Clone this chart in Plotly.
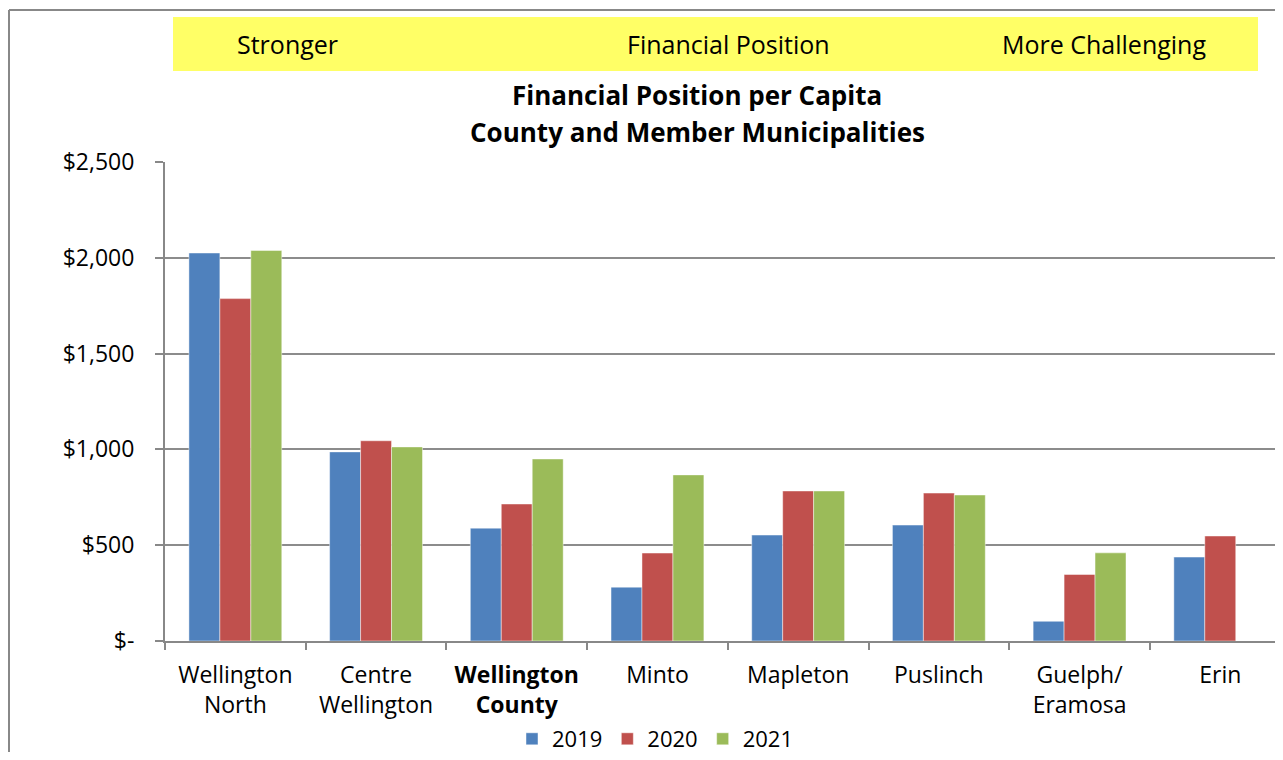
import plotly.graph_objects as go

categories = ["Wellington North", "Centre Wellington", "Wellington County", "Minto",
              "Mapleton", "Puslinch", "Guelph/ Eramosa", "Erin"]
tick_labels = ["Wellington<br>North", "Centre<br>Wellington", "<b>Wellington<br>County</b>",
               "Minto", "Mapleton", "Puslinch", "Guelph/<br>Eramosa", "Erin"]
v2019 = [2025, 987, 589, 281, 553, 605, 103, 438]
v2020 = [1787, 1045, 715, 459, 783, 772, 347, 548]
v2021 = [2038, 1013, 950, 867, 783, 762, 460, None]
y_ticks = [0, 500, 1000, 1500, 2000, 2500]
y_tick_text = ["$-", "$500", "$1,000", "$1,500", "$2,000", "$2,500"]

# page body keeps its default 8px margin; size the figure so the page is exactly 1283x760
OFF = 8
W, H = 1283 - 2 * OFF, 760 - 2 * OFF
FONT = "Open Sans"

def px(x):
    return (x - OFF) / W

def py(y):
    return 1 - (y - OFF) / H

fig = go.Figure()
for name, vals, col in [("2019", v2019, "#4F81BD"), ("2020", v2020, "#C0504D"), ("2021", v2021, "#9BBB59")]:
    fig.add_trace(go.Bar(x=categories, y=vals, name=name,
                         marker=dict(color=col, line=dict(color="rgba(255,255,255,0.45)", width=1))))

fig.update_layout(
    width=W, height=H,
    margin=dict(l=0, r=0, t=0, b=0, pad=0, autoexpand=False),
    paper_bgcolor="white", plot_bgcolor="white",
    barmode="group", bargap=0.34, bargroupgap=0,
    font=dict(family=FONT, size=22, color="black"),
    showlegend=True,
    legend=dict(orientation="h", x=px(655), xanchor="center", y=py(739), yanchor="middle",
                font=dict(size=22), itemwidth=30, traceorder="normal",
                bgcolor="rgba(0,0,0,0)"),
    xaxis=dict(domain=[px(165), 1], range=[-0.5, 7.389], type="category",
               tickmode="array", tickvals=categories, ticktext=tick_labels,
               ticks="outside", tickson="boundaries", ticklen=7, tickcolor="#888888", tickwidth=2,
               showline=True, linecolor="#888888", linewidth=2, showgrid=False,
               automargin=False, tickfont=dict(size=23), ticklabelstandoff=12),
    yaxis=dict(domain=[py(641), py(162)], range=[0, 2500],
               tickmode="array", tickvals=y_ticks, ticktext=y_tick_text,
               ticks="outside", ticklen=8, tickcolor="#888888", tickwidth=2,
               showline=True, linecolor="#888888", linewidth=2,
               showgrid=True, gridcolor="#8c8c8c", gridwidth=2, zeroline=False,
               automargin=False, tickfont=dict(size=23), ticklabelstandoff=16),
    shapes=[
        dict(type="line", xref="paper", yref="paper", x0=px(9), x1=px(9), y0=py(10), y1=0,
             line=dict(color="#888888", width=2)),
        dict(type="line", xref="paper", yref="paper", x0=px(9), x1=1, y0=py(10), y1=py(10),
             line=dict(color="#888888", width=2)),
        dict(type="rect", xref="paper", yref="paper", x0=px(173), x1=px(1258), y0=py(71), y1=py(17),
             fillcolor="#FFFF66", line=dict(width=0), layer="below"),
    ],
    annotations=[
        dict(text="Stronger", xref="paper", yref="paper", x=px(287), y=py(44),
             showarrow=False, font=dict(size=25), xanchor="center", yanchor="middle"),
        dict(text="Financial Position", xref="paper", yref="paper", x=px(728), y=py(44),
             showarrow=False, font=dict(size=25), xanchor="center", yanchor="middle"),
        dict(text="More Challenging", xref="paper", yref="paper", x=px(1104), y=py(44),
             showarrow=False, font=dict(size=25), xanchor="center", yanchor="middle"),
        dict(text="<b>Financial Position per Capita</b>", xref="paper", yref="paper",
             x=px(697), y=py(95), showarrow=False, font=dict(size=26),
             xanchor="center", yanchor="middle"),
        dict(text="<b>County and Member Municipalities</b>", xref="paper", yref="paper",
             x=px(697), y=py(132), showarrow=False, font=dict(size=26),
             xanchor="center", yanchor="middle"),
    ],
)

fig.write_html("out.html", config={"displayModeBar": False})
